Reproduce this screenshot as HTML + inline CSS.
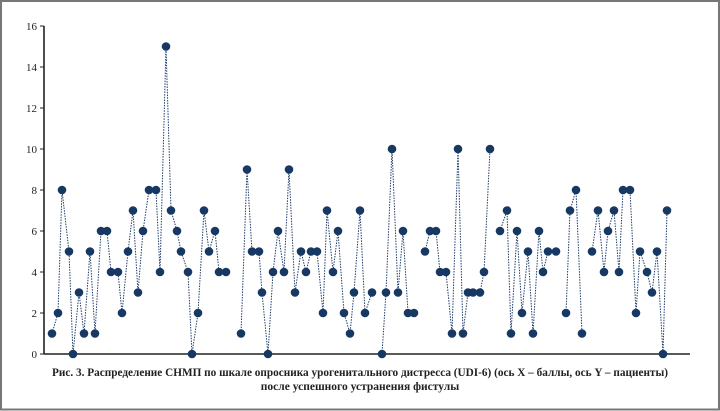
<!DOCTYPE html>
<html><head><meta charset="utf-8"><style>
html,body{margin:0;padding:0;background:#fff}
svg{display:block}
</style></head><body>
<svg width="720" height="411" viewBox="0 0 720 411" xmlns="http://www.w3.org/2000/svg" font-family="Liberation Serif, serif">
<rect x="1" y="1" width="718" height="408.5" fill="#fff" stroke="#777" stroke-width="2"/>
<g stroke="#222" stroke-width="1.6">
<line x1="44" y1="26" x2="44" y2="354"/>
<line x1="44" y1="354" x2="690" y2="354"/>
</g>
<g stroke="#222" stroke-width="1">
<line x1="40" y1="26" x2="44" y2="26"/><line x1="40" y1="67" x2="44" y2="67"/><line x1="40" y1="108" x2="44" y2="108"/><line x1="40" y1="149" x2="44" y2="149"/><line x1="40" y1="190" x2="44" y2="190"/><line x1="40" y1="231" x2="44" y2="231"/><line x1="40" y1="272" x2="44" y2="272"/><line x1="40" y1="313" x2="44" y2="313"/><line x1="40" y1="354" x2="44" y2="354"/>
</g>
<g font-size="11" text-anchor="end" fill="#222">
<text x="37" y="30">16</text><text x="37" y="71">14</text><text x="37" y="112">12</text><text x="37" y="153">10</text><text x="37" y="194">8</text><text x="37" y="235">6</text><text x="37" y="276">4</text><text x="37" y="317">2</text><text x="37" y="358">0</text>
</g>
<g id="s" fill="none" stroke="#1f3d6b" stroke-width="1" stroke-dasharray="1.5 1.2"></g>
<g id="d" fill="#173863"></g>
<g font-size="11.5" font-weight="bold" text-anchor="middle" fill="#222">
<text x="360" y="376" textLength="616" lengthAdjust="spacingAndGlyphs">Рис. 3. Распределение СНМП по шкале опросника урогенитального дистресса (UDI-6) (ось X – баллы, ось Y – пациенты)</text>
<text x="360" y="390">после успешного устранения фистулы</text>
</g>
<script>
var segs=[
[[52,1],[58,2],[62,8],[69,5],[73,0],[79,3],[84,1],[90,5],[95,1],[101,6],[107,6],[111,4],[118,4],[122,2],[128,5],[133,7],[138,3],[143,6],[149,8],[156,8],[160,4],[166,15],[171,7],[177,6],[181,5],[188,4],[192,0],[198,2],[204,7],[209,5],[215,6],[219,4],[226,4]],
[[241,1],[247,9],[252,5],[259,5],[262,3],[268,0],[273,4],[278,6],[284,4],[289,9],[295,3],[301,5],[306,4],[311,5],[317,5],[323,2],[327,7],[333,4],[338,6],[344,2],[350,1],[354,3],[360,7],[365,2],[372,3]],
[[382,0],[386,3],[392,10],[398,3],[403,6],[408,2],[414,2]],
[[425,5],[430,6],[436,6],[440,4],[446,4],[452,1],[458,10],[463,1],[468,3],[473,3],[480,3],[484,4],[490,10]],
[[500,6],[507,7],[511,1],[517,6],[522,2],[528,5],[533,1],[539,6],[543,4],[548,5],[556,5]],
[[566,2],[570,7],[576,8],[582,1]],
[[592,5],[598,7],[604,4],[608,6],[614,7],[619,4],[623,8],[630,8],[636,2],[640,5],[647,4],[652,3],[657,5],[663,0],[667,7]]
];
var ns="http://www.w3.org/2000/svg",s=document.getElementById('s'),d=document.getElementById('d');
segs.forEach(function(g){var p=g.map(function(q){return q[0]+','+(354-q[1]*20.5)}).join(' ');
var pl=document.createElementNS(ns,'polyline');pl.setAttribute('points',p);s.appendChild(pl);
g.forEach(function(q){var c=document.createElementNS(ns,'circle');c.setAttribute('cx',q[0]);c.setAttribute('cy',354-q[1]*20.5);c.setAttribute('r',4.3);d.appendChild(c);});});
</script>
</svg>
</body></html>
